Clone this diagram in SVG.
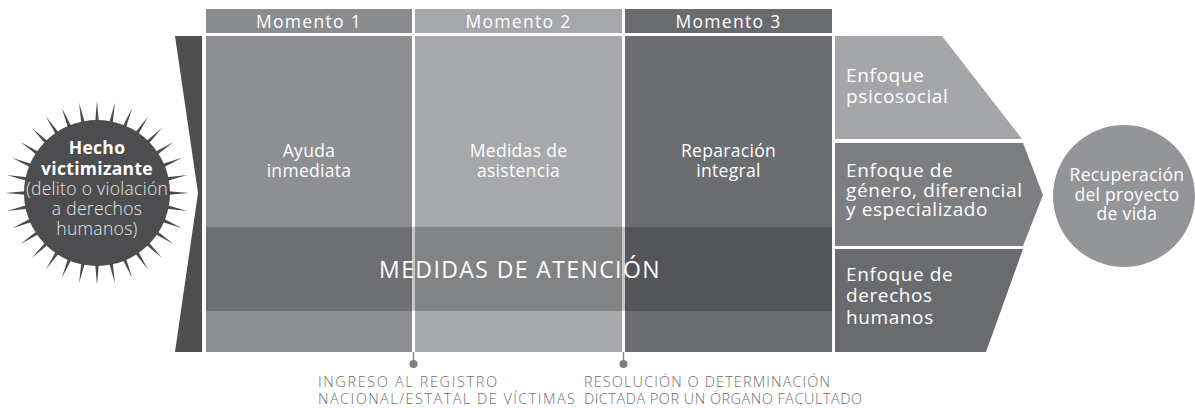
<svg xmlns="http://www.w3.org/2000/svg" xmlns:xlink="http://www.w3.org/1999/xlink" width="1195" height="408" viewBox="0 0 1195 408">
<style>
text{font-family:"Open Sans","Noto Sans","Liberation Sans",sans-serif;}
.hdr{font-size:17.5px;fill:#fff;font-weight:500;text-anchor:middle;letter-spacing:1.3px;}
.col{font-size:17.5px;fill:#fff;font-weight:500;text-anchor:middle;letter-spacing:0.3px;}
.enf{font-size:19px;fill:#fff;font-weight:500;letter-spacing:0.6px;}
.note{font-size:14.5px;fill:#6d6e72;font-weight:300;}
.circ{font-size:17.5px;fill:#fff;text-anchor:middle;letter-spacing:0.3px;}
</style>
<defs>
<polygon id="spike" points="95,124 99,124 97,101" fill="#4d4d4f"/>
</defs>
<rect width="1195" height="408" fill="#fff"/>

<g id="hecho">
<use xlink:href="#spike" transform="rotate(0 97 193)"/>
<use xlink:href="#spike" transform="rotate(11.25 97 193)"/>
<use xlink:href="#spike" transform="rotate(22.5 97 193)"/>
<use xlink:href="#spike" transform="rotate(33.75 97 193)"/>
<use xlink:href="#spike" transform="rotate(45 97 193)"/>
<use xlink:href="#spike" transform="rotate(56.25 97 193)"/>
<use xlink:href="#spike" transform="rotate(67.5 97 193)"/>
<use xlink:href="#spike" transform="rotate(78.75 97 193)"/>
<use xlink:href="#spike" transform="rotate(90 97 193)"/>
<use xlink:href="#spike" transform="rotate(101.25 97 193)"/>
<use xlink:href="#spike" transform="rotate(112.5 97 193)"/>
<use xlink:href="#spike" transform="rotate(123.75 97 193)"/>
<use xlink:href="#spike" transform="rotate(135 97 193)"/>
<use xlink:href="#spike" transform="rotate(146.25 97 193)"/>
<use xlink:href="#spike" transform="rotate(157.5 97 193)"/>
<use xlink:href="#spike" transform="rotate(168.75 97 193)"/>
<use xlink:href="#spike" transform="rotate(180 97 193)"/>
<use xlink:href="#spike" transform="rotate(191.25 97 193)"/>
<use xlink:href="#spike" transform="rotate(202.5 97 193)"/>
<use xlink:href="#spike" transform="rotate(213.75 97 193)"/>
<use xlink:href="#spike" transform="rotate(225 97 193)"/>
<use xlink:href="#spike" transform="rotate(236.25 97 193)"/>
<use xlink:href="#spike" transform="rotate(247.5 97 193)"/>
<use xlink:href="#spike" transform="rotate(258.75 97 193)"/>
<use xlink:href="#spike" transform="rotate(270 97 193)"/>
<use xlink:href="#spike" transform="rotate(281.25 97 193)"/>
<use xlink:href="#spike" transform="rotate(292.5 97 193)"/>
<use xlink:href="#spike" transform="rotate(303.75 97 193)"/>
<use xlink:href="#spike" transform="rotate(315 97 193)"/>
<use xlink:href="#spike" transform="rotate(326.25 97 193)"/>
<use xlink:href="#spike" transform="rotate(337.5 97 193)"/>
<use xlink:href="#spike" transform="rotate(348.75 97 193)"/>
<circle cx="97" cy="193" r="73" fill="#4d4d4f"/>
<text class="circ"><tspan x="97" y="154" font-weight="700">Hecho</tspan><tspan x="97" y="175" font-weight="700">victimizante</tspan><tspan x="97" y="195" font-weight="300" fill="#e6e6e6">(delito o violación</tspan><tspan x="97" y="215" font-weight="300" fill="#e6e6e6">a derechos</tspan><tspan x="97" y="235" font-weight="300" fill="#e6e6e6">humanos)</tspan></text>
</g>

<g id="entrada">
<polygon points="175,36 202,36 202,352 175,352 198,193" fill="#4e4e50"/>
</g>

<g id="momento1">
<rect x="206" y="9" width="206" height="24" fill="#8b8c90"/>
<text class="hdr" x="309" y="28">Momento 1</text>
<rect x="206" y="36" width="206" height="316" fill="#8e8f93"/>
<text class="col"><tspan x="309" y="157">Ayuda</tspan><tspan x="309" y="177">inmediata</tspan></text>
</g>
<g id="momento2">
<rect x="415" y="9" width="207" height="24" fill="#a6a7aa"/>
<text class="hdr" x="518.5" y="28">Momento 2</text>
<rect x="415" y="36" width="207" height="316" fill="#a7a8ab"/>
<text class="col"><tspan x="518.5" y="157">Medidas de</tspan><tspan x="518.5" y="177">asistencia</tspan></text>
</g>
<g id="momento3">
<rect x="625" y="9" width="207" height="24" fill="#6a6b6f"/>
<text class="hdr" x="728.5" y="28">Momento 3</text>
<rect x="625" y="36" width="207" height="316" fill="#6c6d71"/>
<text class="col"><tspan x="728.5" y="157">Reparación</tspan><tspan x="728.5" y="177">integral</tspan></text>
</g>

<g id="medidas">
<rect x="206" y="227" width="626" height="84" fill="#000" fill-opacity="0.22"/>
<text x="520" y="278" font-size="23" fill="#fff" text-anchor="middle" letter-spacing="1.4">MEDIDAS DE ATENCIÓN</text>
</g>

<g id="enfoque1">
<polygon points="835,36 942,36 1022,139 835,139" fill="#a5a6a9"/>
<text class="enf"><tspan x="846" y="82">Enfoque</tspan><tspan x="846" y="103">psicosocial</tspan></text>
</g>
<g id="enfoque2">
<polygon points="835,143 1023,143 1043,195 1023,246 835,246" fill="#7d7e82"/>
<text class="enf"><tspan x="846" y="177">Enfoque de</tspan><tspan x="846" y="197">género, diferencial</tspan><tspan x="846" y="216">y especializado</tspan></text>
</g>
<g id="enfoque3">
<polygon points="835,249 1023,249 986,352 835,352" fill="#6a6b6f"/>
<text class="enf"><tspan x="846" y="281">Enfoque de</tspan><tspan x="846" y="302">derechos</tspan><tspan x="846" y="324">humanos</tspan></text>
</g>

<g id="recuperacion">
<circle cx="1124" cy="196" r="71" fill="#949599"/>
<text class="circ" font-weight="500" font-size="18.5"><tspan x="1127" y="181">Recuperación</tspan><tspan x="1127" y="201">del proyecto</tspan><tspan x="1127" y="220">de vida</tspan></text>
</g>

<g id="connectors">
<line x1="413.5" y1="352" x2="413.5" y2="364" stroke="#8a8b8f" stroke-width="1.5"/>
<circle cx="413.5" cy="364" r="4" fill="#7d7e82"/>
<line x1="623.5" y1="352" x2="623.5" y2="364" stroke="#8a8b8f" stroke-width="1.5"/>
<circle cx="623.5" cy="364" r="4" fill="#7d7e82"/>
</g>

<g id="hitos">
<text class="note"><tspan x="318" y="387" textLength="179" lengthAdjust="spacing">INGRESO AL REGISTRO</tspan><tspan x="318" y="404" textLength="257" lengthAdjust="spacing">NACIONAL/ESTATAL DE VÍCTIMAS</tspan></text>
<text class="note"><tspan x="584" y="387" textLength="246" lengthAdjust="spacing">RESOLUCIÓN O DETERMINACIÓN</tspan><tspan x="584" y="404" textLength="278" lengthAdjust="spacing">DICTADA POR UN ÓRGANO FACULTADO</tspan></text>
</g>
</svg>
